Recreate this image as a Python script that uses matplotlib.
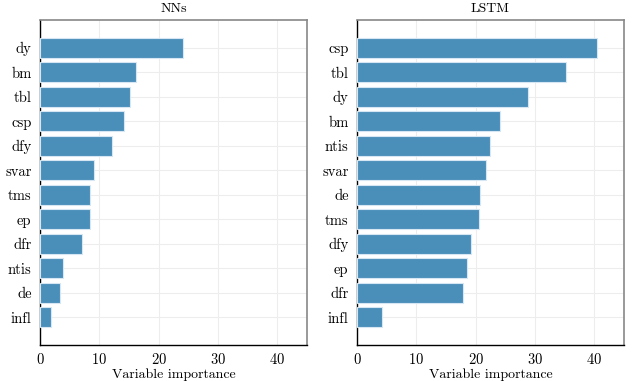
import matplotlib
matplotlib.use("Agg")
import matplotlib.pyplot as plt
import numpy as np

plt.rcParams['font.family'] = 'serif'
plt.rcParams['font.serif'] = ['cmr10']
plt.rcParams['mathtext.fontset'] = 'cm'
plt.rcParams['axes.formatter.use_mathtext'] = True

# Data (top to bottom)
nn_vars = ["dy", "bm", "tbl", "csp", "dfy", "svar", "tms", "ep", "dfr", "ntis", "de", "infl"]
nn_imp = [24.15, 16.25, 15.1, 14.1, 12.1, 9.15, 8.5, 8.4, 7.1, 3.9, 3.3, 1.9]

lstm_vars = ["csp", "tbl", "dy", "bm", "ntis", "svar", "de", "tms", "dfy", "ep", "dfr", "infl"]
lstm_imp = [40.45, 35.3, 28.85, 24.1, 22.5, 21.8, 20.8, 20.5, 19.2, 18.6, 17.9, 4.27]

bar_color = "#4a8fba"

fig = plt.figure(figsize=(6.34, 3.81), dpi=100)
ax1 = fig.add_axes([0.063, 0.0945, 0.421, 0.853])
ax2 = fig.add_axes([0.563, 0.0945, 0.421, 0.853])


def draw(ax, names, vals, title):
    y = np.arange(len(names))
    ax.barh(y, vals, height=0.82, color=bar_color, edgecolor="#d6e6f2", linewidth=0.8, zorder=3)
    ax.set_yticks(y)
    ax.set_yticklabels(names, fontsize=10.5)
    ax.set_ylim(len(names) - 1 + 1.13, -1.13)
    ax.set_xlim(0, 45)
    ax.set_xticks([0, 10, 20, 30, 40])
    ax.tick_params(axis="x", labelsize=10.5, pad=5)
    ax.tick_params(axis="y", pad=6)
    ax.tick_params(length=0)
    ax.grid(True, color="#ededed", linewidth=0.8, zorder=0)
    ax.set_xlabel("Variable importance", fontsize=10, labelpad=1)
    ax.set_title(title, fontsize=10, pad=6)
    for s in ["left", "bottom"]:
        ax.spines[s].set_color("black")
        ax.spines[s].set_linewidth(1.0)
    for s in ["top", "right"]:
        ax.spines[s].set_color("#888888")
        ax.spines[s].set_linewidth(1.2)


draw(ax1, nn_vars, nn_imp, "NNs")
draw(ax2, lstm_vars, lstm_imp, "LSTM")

fig.savefig("out.png", dpi=100)
